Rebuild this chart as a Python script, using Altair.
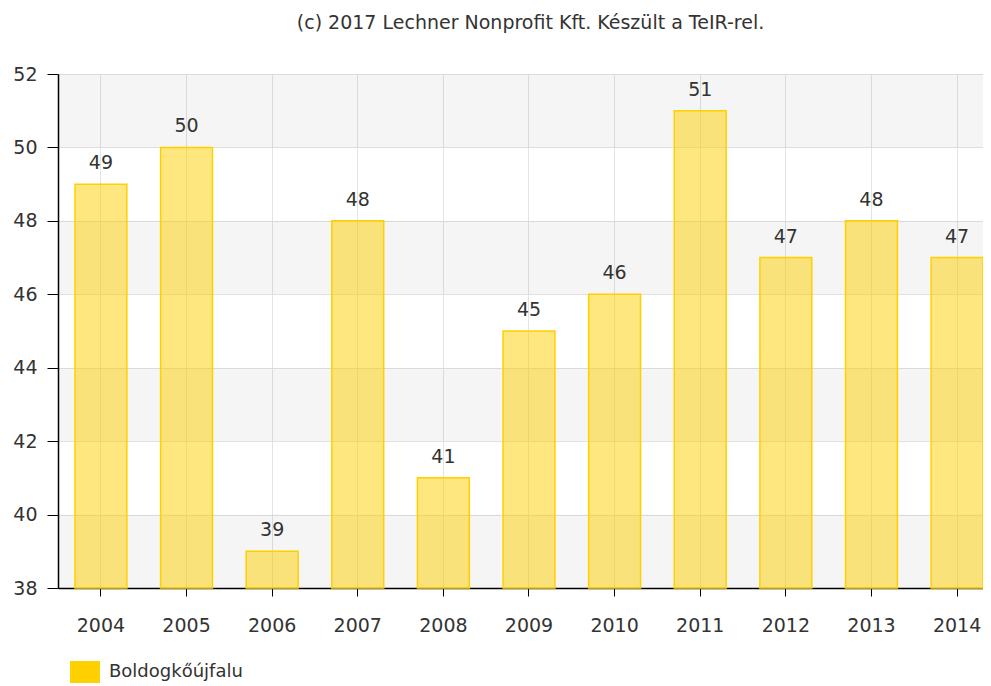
import altair as alt
import pandas as pd

years = ["2004", "2005", "2006", "2007", "2008", "2009", "2010", "2011", "2012", "2013", "2014"]
values = [49, 50, 39, 48, 41, 45, 46, 51, 47, 48, 47]
series_name = "Boldogkőújfalu"
y_ticks = [38, 40, 42, 44, 46, 48, 50, 52]
band_lo = [38, 42, 46, 50]
band_hi = [40, 44, 48, 52]
title_text = "(c) 2017 Lechner Nonprofit Kft. Készült a TeIR-rel."

FONT = "DejaVu Sans"
W, H = 925, 514
RANGE_W = 929

df = pd.DataFrame({"year": years, "value": values, "base": [38] * len(years), "series": [series_name] * len(years)})
bands = pd.DataFrame({"lo": band_lo, "hi": band_hi})

yscale = alt.Scale(domain=[38, 52], nice=False, zero=False)
xscale = alt.Scale(paddingInner=0.394, paddingOuter=0.1224, align=0.81, range=[0, RANGE_W])

bg = alt.Chart(bands).mark_rect(color="#000000", opacity=0.04).encode(
    x=alt.value(0), x2=alt.value(RANGE_W),
    y=alt.Y("lo:Q", scale=yscale), y2="hi:Q",
)

bars = alt.Chart(df).mark_bar(fillOpacity=0.5, strokeOpacity=1, stroke="#FFD000", strokeWidth=1.5).encode(
    x=alt.X("year:N", scale=xscale, sort=years, title=None,
            axis=alt.Axis(labelAngle=0, labelFontSize=19, labelColor="#333333", labelFont=FONT,
                          tickSize=8, tickColor="#000000", domainColor="#000000", domainWidth=1.5,
                          labelPadding=20, grid=True, gridColor="#e3e3e3")),
    y=alt.Y("value:Q", scale=yscale, title=None,
            axis=alt.Axis(values=y_ticks, labelFontSize=19, labelColor="#333333", labelFont=FONT,
                          tickSize=11, tickColor="#000000", domainColor="#000000", domainWidth=1.5,
                          labelPadding=10, grid=True, gridColor="#e3e3e3")),
    y2="base:Q",
    color=alt.Color("series:N", scale=alt.Scale(range=["#FFD000"]), title=None,
                    legend=alt.Legend(orient="none", legendX=12, legendY=583,
                                      symbolType="M-1,-0.733H1V0.733H-1Z",
                                      symbolSize=900, symbolOpacity=1, symbolStrokeWidth=0,
                                      labelFontSize=18, labelColor="#333333", labelFont=FONT,
                                      labelOffset=9, padding=0)),
)

labels = alt.Chart(df).mark_text(baseline="alphabetic", dy=-15, fontSize=19, color="#333333", font=FONT).encode(
    x=alt.X("year:N", scale=xscale, sort=years),
    y=alt.Y("value:Q", scale=yscale),
    text="value:Q",
)

chart = alt.layer(bg, bars, labels).properties(
    width=W, height=H,
    title=alt.TitleParams(title_text, fontSize=19, fontWeight="normal", color="#333333", font=FONT,
                          anchor="middle", offset=32, dx=10),
    autosize=alt.AutoSizeParams(type="none"),
    padding={"left": 50, "top": 66, "right": 0, "bottom": 96},
).configure_view(stroke=None)

chart.save("out.html", embed_options={"renderer": "svg", "actions": False})
